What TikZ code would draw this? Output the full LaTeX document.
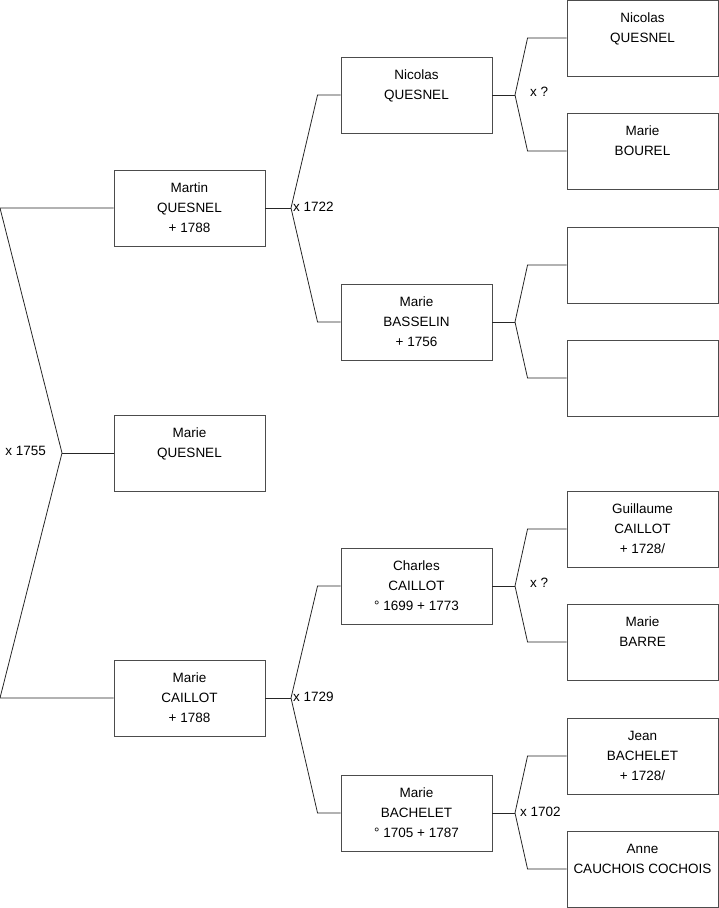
\documentclass[tikz,border=0pt]{standalone}
\usepackage{fontspec}
\setmainfont{Liberation Sans}
\usetikzlibrary{calc, positioning}

\begin{document}
\begin{tikzpicture}[x=1pt, y=-1pt, font=\fontsize{13.5}{20}\selectfont,
  person/.style={draw=black!70, line width=0.9pt, minimum width=151, minimum height=76, align=center, inner sep=0pt},
  link/.style={draw=black!85, line width=0.8pt},
  mariage/.style={inner sep=1pt}]
  \useasboundingbox (0,0) rectangle (719,908);
  % generation 1
  \node[person] (martin) at (189.5,208) {Martin\\QUESNEL\\+ 1788};
  \node[person] (marieq) at (189.5,453) {Marie\\QUESNEL\\~};
  \node[person] (mariec) at (189.5,698) {Marie\\CAILLOT\\+ 1788};
  % generation 2
  \node[person] (nicolas) at (416.5,95) {Nicolas\\QUESNEL\\~};
  \node[person] (basselin) at (416.5,322) {Marie\\BASSELIN\\+ 1756};
  \node[person] (charles) at (416.5,586) {Charles\\CAILLOT\\° 1699 + 1773};
  \node[person] (bachelet) at (416.5,813) {Marie\\BACHELET\\° 1705 + 1787};
  % generation 3
  \node[person] (nicolasp) at (642.5,38) {Nicolas\\QUESNEL\\~};
  \node[person] (bourel) at (642.5,151) {Marie\\BOUREL\\~};
  \node[person] (perebass) at (642.5,265) {};
  \node[person] (merebass) at (642.5,378) {};
  \node[person] (guillaume) at (642.5,529) {Guillaume\\CAILLOT\\+ 1728/};
  \node[person] (barre) at (642.5,642) {Marie\\BARRE\\~};
  \node[person] (jean) at (642.5,756) {Jean\\BACHELET\\+ 1728/};
  \node[person] (anne) at (642.5,869) {Anne\\CAUCHOIS COCHOIS\\~};

  % mariages
  \coordinate (bord) at (0,0);
  \coordinate (m1755) at (62,453);
  \draw[link] (martin.west) -- (martin.west -| bord) -- (m1755) -- (mariec.west -| bord) -- (mariec.west);
  \draw[link] (m1755) -- (marieq.west);
  \node[mariage, anchor=east] (l1755) at (47,451) {x 1755};

  \coordinate (m1722) at (291,208);
  \draw[link] (martin.east) -- (m1722);
  \draw[link] (nicolas.west) -- ++(-23,0) -- (m1722) -- ($(basselin.west)+(-23,0)$) -- (basselin.west);
  \node[mariage, anchor=west] (l1722) at (292,207) {x 1722};

  \coordinate (m1729) at (291,698);
  \draw[link] (mariec.east) -- (m1729);
  \draw[link] (charles.west) -- ++(-23,0) -- (m1729) -- ($(bachelet.west)+(-23,0)$) -- (bachelet.west);
  \node[mariage, anchor=west] (l1729) at (292,697) {x 1729};

  \coordinate (mnic) at (515,95);
  \draw[link] (nicolas.east) -- (mnic);
  \draw[link] (nicolasp.west) -- ++(-39,0) -- (mnic) -- ($(bourel.west)+(-39,0)$) -- (bourel.west);
  \node[mariage, anchor=west] (lnic) at (529,92) {x ?};

  \coordinate (mbass) at (515,322);
  \draw[link] (basselin.east) -- (mbass);
  \draw[link] (perebass.west) -- ++(-39,0) -- (mbass) -- ($(merebass.west)+(-39,0)$) -- (merebass.west);

  \coordinate (mcha) at (515,586);
  \draw[link] (charles.east) -- (mcha);
  \draw[link] (guillaume.west) -- ++(-39,0) -- (mcha) -- ($(barre.west)+(-39,0)$) -- (barre.west);
  \node[mariage, anchor=west] (lcha) at (529,583) {x ?};

  \coordinate (m1702) at (515,813);
  \draw[link] (bachelet.east) -- (m1702);
  \draw[link] (jean.west) -- ++(-39,0) -- (m1702) -- ($(anne.west)+(-39,0)$) -- (anne.west);
  \node[mariage, anchor=west] (l1702) at (519,812) {x 1702};
\end{tikzpicture}
\end{document}
